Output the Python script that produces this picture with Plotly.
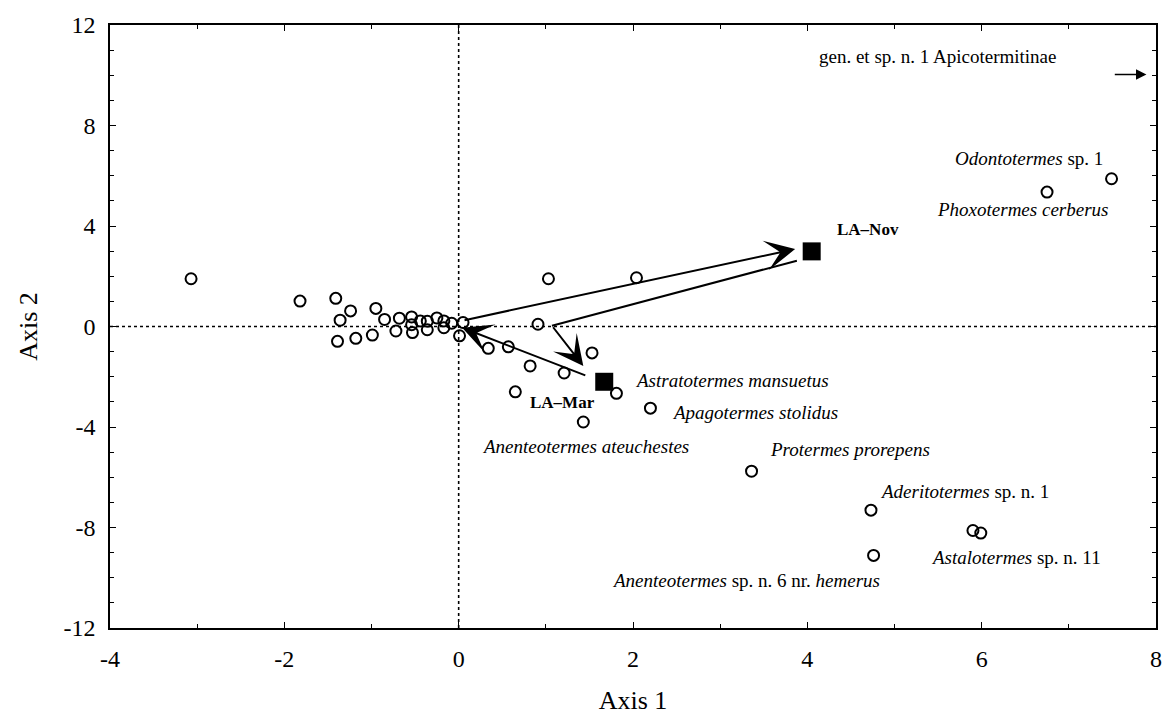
import plotly.graph_objects as go

# ---- data ----
species_x = [-3.07, -1.82, -1.41, -1.24, -1.36, -1.39, -1.18, -0.99, -0.95, -0.85,
             -0.72, -0.68, -0.54, -0.54, -0.53, -0.44, -0.36, -0.36, -0.25, -0.17,
             -0.17, -0.08, 0.05, 0.01, 0.34, 1.03, 2.04, 0.91, 0.57, 0.82,
             1.21, 1.53, 0.65, 1.81, 2.20, 1.43, 3.36, 4.73, 5.90, 5.99,
             4.76, 7.49, 6.75]
species_y = [1.90, 1.01, 1.12, 0.62, 0.25, -0.59, -0.47, -0.34, 0.72, 0.28,
             -0.18, 0.33, 0.38, 0.07, -0.24, 0.22, 0.21, -0.13, 0.34, 0.22,
             -0.05, 0.13, 0.16, -0.37, -0.87, 1.90, 1.94, 0.09, -0.81, -1.57,
             -1.85, -1.05, -2.60, -2.66, -3.25, -3.80, -5.76, -7.31, -8.12, -8.22,
             -9.11, 5.88, 5.35]

site_names = ["LA\u2013Nov", "LA\u2013Mar"]
site_x = [4.05, 1.67]
site_y = [2.99, -2.20]

label_texts = [
    "<i>Astratotermes mansuetus</i>",
    "<i>Apagotermes stolidus</i>",
    "<i>Anenteotermes ateuchestes</i>",
    "<i>Protermes prorepens</i>",
    "<i>Aderitotermes</i> sp. n. 1",
    "<i>Astalotermes</i> sp. n. 11",
    "<i>Anenteotermes</i> sp. n. 6 nr. <i>hemerus</i>",
    "<i>Odontotermes</i> sp. 1",
    "<i>Phoxotermes cerberus</i>",
    "gen. et sp. n. 1 Apicotermitinae",
]
label_x = [2.00, 2.43, 0.24, 3.55, 4.81, 5.39, 1.74, 7.42, 7.47, 6.88]
label_y = [-2.16, -3.41, -4.78, -4.89, -6.58, -9.21, -10.12, 6.69, 4.66, 10.73]
label_anchor = ["left", "left", "left", "left", "left", "left", "left", "right", "right", "right"]

x_tickvals = [-4, -2, 0, 2, 4, 6, 8]
x_ticktext = ["-4", "-2", "0", "2", "4", "6", "8"]
y_tickvals = [-12, -8, -4, 0, 4, 8, 12]
y_ticktext = ["-12", "-8", "-4", "0", "4", "8", "12"]

# arrows
arrow_origin = (0.05, 0.24)
nov_tip = (3.86, 3.08)
mar_tail = (1.47, -1.97)
mar_head = (0.04, -0.05)
bend_start = (3.88, 2.62)
bend_point = (1.07, 0.03)
bend_tip = (1.43, -1.57)
offscale_tail = (7.51, 10.03)
offscale_tip = (7.89, 10.03)

x_range = [-4, 8]
y_range = [-12, 12]

FONT = "Liberation Serif, Times New Roman, serif"

fig = go.Figure()

fig.add_trace(go.Scatter(
    x=species_x, y=species_y, mode="markers",
    marker=dict(symbol="circle-open", size=11, color="black", line=dict(width=2, color="black")),
    showlegend=False, hoverinfo="skip"))

fig.add_trace(go.Scatter(
    x=site_x, y=site_y, mode="markers",
    marker=dict(symbol="square", size=18, color="black"),
    showlegend=False, hoverinfo="skip"))

# dotted zero lines
fig.add_shape(type="line", x0=0, x1=0, y0=y_range[0], y1=y_range[1], xref="x", yref="y",
              line=dict(color="black", width=1.6, dash="dot"), layer="below")
fig.add_shape(type="line", x0=x_range[0], x1=x_range[1], y0=0, y1=0, xref="x", yref="y",
              line=dict(color="black", width=1.6, dash="dot"), layer="below")

# bent connector line
fig.add_shape(type="line", x0=bend_start[0], y0=bend_start[1], x1=bend_point[0], y1=bend_point[1],
              xref="x", yref="y", line=dict(color="black", width=2))

def arrow(tail, head, size=2.0, width=2, headstyle=3):
    fig.add_annotation(x=head[0], y=head[1], ax=tail[0], ay=tail[1],
                       xref="x", yref="y", axref="x", ayref="y",
                       text="", showarrow=True, arrowhead=headstyle, arrowsize=size,
                       arrowwidth=width, arrowcolor="black", standoff=0, startstandoff=0)

arrow(arrow_origin, nov_tip, size=2.5)
arrow(mar_tail, mar_head, size=2.5)
arrow(bend_point, bend_tip, size=2.5)
arrow(offscale_tail, offscale_tip, size=1.3, width=1.6, headstyle=2)

# site labels
fig.add_annotation(x=4.32, y=3.88, text="<b>" + site_names[0] + "</b>", showarrow=False,
                   xanchor="left", yanchor="middle", font=dict(family=FONT, size=17, color="black"))
fig.add_annotation(x=0.795, y=-3.02, text="<b>" + site_names[1] + "</b>", showarrow=False,
                   xanchor="left", yanchor="middle", font=dict(family=FONT, size=17, color="black"))

for t, lx, ly, an in zip(label_texts, label_x, label_y, label_anchor):
    fig.add_annotation(x=lx, y=ly, text=t, showarrow=False, xanchor=an, yanchor="middle",
                       font=dict(family=FONT, size=19, color="black"))

axis_common = dict(
    showgrid=False, zeroline=False, showline=True, linecolor="black", linewidth=1.5,
    mirror="ticks", ticks="inside", ticklen=6, tickwidth=1.2, tickcolor="black",
    tickfont=dict(family=FONT, size=24, color="black"),
)

fig.update_xaxes(range=x_range, tickmode="array", tickvals=x_tickvals, ticktext=x_ticktext,
                 minor=dict(dtick=1, tick0=0, ticks="inside", ticklen=4, tickcolor="black"),
                 title=dict(text="Axis 1", font=dict(family=FONT, size=26, color="black"), standoff=20),
                 ticklabelstandoff=8, **axis_common)
fig.update_yaxes(range=y_range, tickmode="array", tickvals=y_tickvals, ticktext=y_ticktext,
                 minor=dict(dtick=1, tick0=0, ticks="inside", ticklen=4, tickcolor="black"),
                 title=dict(text="Axis 2", font=dict(family=FONT, size=26, color="black"), standoff=18),
                 ticklabelstandoff=8, **axis_common)

fig.update_layout(
    width=1176, height=722,
    margin=dict(l=110, r=20, t=22, b=90),
    paper_bgcolor="white", plot_bgcolor="white",
    font=dict(family=FONT, color="black"),
)

fig.write_html("out.html")
